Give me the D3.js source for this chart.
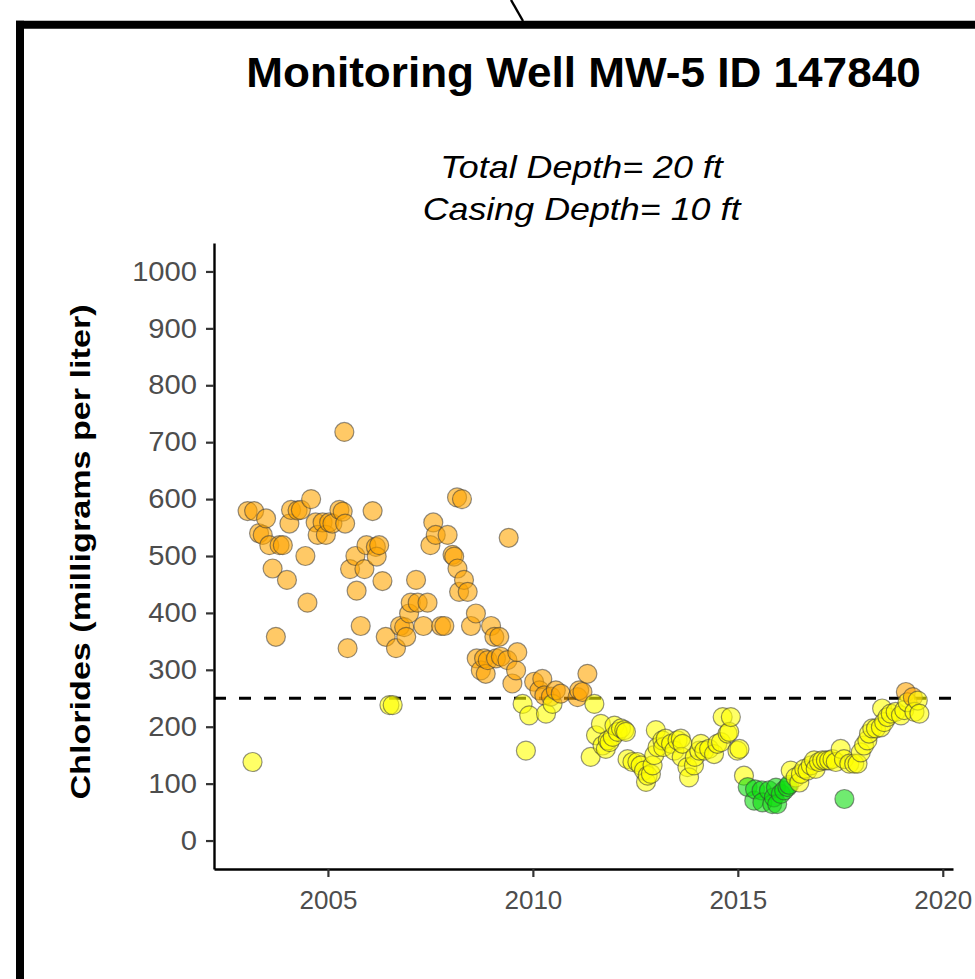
<!DOCTYPE html>
<html>
<head>
<meta charset="utf-8">
<script src="https://cdnjs.cloudflare.com/ajax/libs/d3/7.8.5/d3.min.js"></script>
<style>
body { margin: 0; background: #fff; }
text { font-family: "Liberation Sans", Arial, sans-serif; }
</style>
</head>
<body>
<div id="graph1"></div>
<script>
// sample dates (decimal years) and chloride results, mg/L
var sampleYears = [
    2003.04, 2003.16, 2003.20, 2003.32, 2003.41, 2003.49, 2003.57, 2003.65, 2003.73, 2003.82,
    2003.90, 2004.00, 2004.06, 2004.10, 2004.26, 2004.34, 2004.45, 2004.50, 2004.59, 2004.70,
    2004.75, 2004.87, 2004.95, 2005.03, 2005.11, 2005.28, 2005.36, 2005.40, 2005.42, 2005.48,
    2005.54, 2005.67, 2005.70, 2005.80, 2005.89, 2005.94, 2006.09, 2006.17, 2006.19, 2006.25,
    2006.33, 2006.41, 2006.50, 2006.58, 2006.66, 2006.76, 2006.86, 2006.91, 2006.98, 2007.02,
    2007.15, 2007.19, 2007.33, 2007.43, 2007.50, 2007.57, 2007.63, 2007.76, 2007.84, 2007.92,
    2008.04, 2008.08, 2008.15, 2008.16, 2008.20, 2008.27, 2008.32, 2008.41, 2008.49, 2008.61,
    2008.63, 2008.73, 2008.81, 2008.85, 2008.90, 2008.98, 2009.06, 2009.10, 2009.18, 2009.22,
    2009.38, 2009.41, 2009.50, 2009.59, 2009.62, 2009.75, 2009.83, 2009.91, 2010.03, 2010.16,
    2010.23, 2010.28, 2010.32, 2010.44, 2010.48, 2010.56, 2010.68, 2011.09, 2011.13, 2011.21,
    2011.33, 2011.41, 2011.50, 2011.54, 2011.66, 2011.70, 2011.78, 2011.83, 2011.87, 2011.95,
    2011.99, 2012.07, 2012.15, 2012.23, 2012.27, 2012.31, 2012.43, 2012.55, 2012.63, 2012.71,
    2012.76, 2012.80, 2012.88, 2012.92, 2012.96, 2013.00, 2013.04, 2013.16, 2013.18, 2013.24,
    2013.37, 2013.45, 2013.53, 2013.61, 2013.63, 2013.65, 2013.77, 2013.81, 2013.93, 2013.95,
    2014.06, 2014.10, 2014.18, 2014.30, 2014.42, 2014.50, 2014.59, 2014.63, 2014.75, 2014.79,
    2014.83, 2014.99, 2015.04, 2015.15, 2015.24, 2015.40, 2015.42, 2015.58, 2015.60, 2015.76,
    2015.84, 2015.88, 2015.93, 2015.96, 2016.05, 2016.13, 2016.21, 2016.25, 2016.29, 2016.41,
    2016.50, 2016.54, 2016.62, 2016.70, 2016.78, 2016.86, 2016.90, 2016.98, 2017.06, 2017.15,
    2017.23, 2017.31, 2017.39, 2017.51, 2017.59, 2017.60, 2017.72, 2017.84, 2017.92, 2018.00,
    2018.08, 2018.16, 2018.20, 2018.28, 2018.37, 2018.49, 2018.52, 2018.57, 2018.65, 2018.73,
    2018.85, 2018.98, 2019.06, 2019.10, 2019.14, 2019.27, 2019.31, 2019.39, 2019.43
];
var chlorides = [
    579, 138, 579, 540, 537, 566, 519, 478, 358, 519,
    519, 458, 557, 581, 580, 581, 500, 418, 600, 559,
    537, 559, 537, 559, 557, 581, 578, 718, 557, 338,
    477, 500, 439, 377, 477, 519, 579, 516, 499, 519,
    456, 358, 238, 238, 338, 377, 375, 358, 399, 418,
    458, 418, 377, 418, 519, 559, 537, 377, 377, 537,
    502, 499, 603, 478, 437, 600, 458, 437, 377, 399,
    320, 299, 320, 293, 317, 377, 358, 320, 358, 323,
    317, 532, 276, 299, 331, 240, 158, 220, 279, 264,
    284, 255, 223, 253, 240, 264, 258, 252, 264, 261,
    293, 147, 240, 185, 205, 167, 161, 176, 173, 182,
    202, 191, 197, 194, 191, 143, 138, 138, 132, 123,
    103, 114, 117, 132, 150, 194, 164, 176, 164, 179,
    170, 158, 176, 179, 147, 170, 129, 111, 132, 147,
    158, 170, 158, 161, 152, 170, 173, 217, 188, 191,
    217, 158, 161, 114, 94, 70, 90, 88, 67, 88,
    64, 76, 93, 64, 82, 88, 94, 98, 123, 111,
    102, 117, 126, 123, 132, 141, 126, 138, 141, 141,
    141, 143, 138, 161, 143, 73, 135, 135, 135, 155,
    167, 176, 188, 197, 197, 199, 232, 208, 217, 223,
    226, 220, 229, 261, 243, 252, 226, 246, 223
];
var yTicks = [0, 100, 200, 300, 400, 500, 600, 700, 800, 900, 1000];
var xTicks = [2005, 2010, 2015, 2020];
var standard = 250;
var titleText = "Monitoring Well MW-5 ID 147840";
var subtitleLines = ["Total Depth= 20 ft", "Casing Depth= 10 ft"];
var yLabel = "Chlorides (milligrams per liter)";

var w = 975;
var h = 979;
var margin = {top: 243, bottom: 110, left: 214, right: 22};

var svg = d3.select("#graph1").append("svg")
    .attr("width", w)
    .attr("height", h)
    .style("display", "block");

svg.append("rect")
    .attr("width", w)
    .attr("height", h)
    .attr("fill", "#fff");

// frame edges and the stray line above it
svg.append("line")
    .attr("x1", 16).attr("x2", w)
    .attr("y1", 24.7).attr("y2", 24.7)
    .attr("stroke", "#000").attr("stroke-width", 8);
svg.append("line")
    .attr("x1", 20).attr("x2", 20)
    .attr("y1", 20.7).attr("y2", h)
    .attr("stroke", "#000").attr("stroke-width", 8);
svg.append("line")
    .attr("x1", 511).attr("y1", 0)
    .attr("x2", 523).attr("y2", 21)
    .attr("stroke", "#000").attr("stroke-width", 2.4);

var data = sampleYears.map(function(d, i){
    return {year: d, value: chlorides[i]};
});

var ext = d3.extent(sampleYears);
var pad = (ext[1] - ext[0]) * 0.05;
var x = d3.scaleLinear()
    .domain([ext[0] - pad, ext[1] + pad])
    .range([margin.left, w - margin.right]);
var y = d3.scaleLinear()
    .domain([-50, 1050])
    .range([h - margin.bottom, margin.top]);

var color = function(v){
    if (v > standard) return "#FFA500";
    if (v > 100) return "#FFFF00";
    return "#11DD11";
};

var xAxis = d3.axisBottom(x)
    .tickValues(xTicks)
    .tickFormat(d3.format("d"))
    .tickSizeInner(8)
    .tickSizeOuter(0)
    .tickPadding(14);
var yAxis = d3.axisLeft(y)
    .tickValues(yTicks)
    .tickFormat(d3.format("d"))
    .tickSizeInner(8)
    .tickSizeOuter(0)
    .tickPadding(9);

var gx = svg.append("g")
    .attr("transform", "translate(0," + (h - margin.bottom) + ")")
    .call(xAxis);
var gy = svg.append("g")
    .attr("transform", "translate(" + margin.left + ",0)")
    .call(yAxis);

[gx, gy].forEach(function(g){
    g.select(".domain").attr("stroke", "#000").attr("stroke-width", 2.4);
    g.selectAll(".tick line").attr("stroke", "#333").attr("stroke-width", 2.2);
    g.selectAll(".tick text")
        .attr("fill", "#4D4D4D")
        .style("font-family", "'Liberation Sans', Arial, sans-serif");
});
gx.selectAll(".tick text").style("font-size", "26px");
// the source font runs a little wide, so stretch the labels sideways
gy.selectAll(".tick text")
    .style("font-size", "27px")
    .attr("x", null)
    .attr("transform", "translate(-17,0) scale(1.08,1)");

// threshold line
svg.append("line")
    .attr("x1", x.range()[0]).attr("x2", x.range()[1])
    .attr("y1", y(standard)).attr("y2", y(standard))
    .attr("stroke", "#000")
    .attr("stroke-width", 3)
    .attr("stroke-dasharray", "12,13");

svg.append("g")
    .selectAll(".point")
    .data(data)
    .enter()
    .append("circle")
    .classed("point", true)
    .attr("cx", function(d){ return x(d.year); })
    .attr("cy", function(d){ return y(d.value); })
    .attr("r", 9.5)
    .attr("fill", function(d){ return color(d.value); })
    .attr("fill-opacity", 0.6)
    .attr("stroke", "#3a3a3a")
    .attr("stroke-opacity", 0.55)
    .attr("stroke-width", 1.2);

var cx = (x.range()[0] + x.range()[1]) / 2;

svg.append("text")
    .attr("transform", "translate(" + cx + ",87) scale(1.05,1)")
    .style("text-anchor", "middle")
    .style("font-weight", "bold")
    .style("font-size", "42px")
    .attr("fill", "#000")
    .text(titleText);

svg.selectAll(".subtitle")
    .data(subtitleLines)
    .enter()
    .append("text")
    .classed("subtitle", true)
    .attr("transform", function(d, i){
        return "translate(" + (cx - 2) + "," + (178 + i * 42) + ") scale(1.12,1)";
    })
    .style("text-anchor", "middle")
    .style("font-style", "italic")
    .style("font-size", "32px")
    .attr("fill", "#000")
    .text(function(d){ return d; });

svg.append("text")
    .attr("transform", "translate(90," + ((y(0) + y(1000)) / 2 - 4) + ") rotate(-90) scale(1.22,1)")
    .style("text-anchor", "middle")
    .style("font-weight", "bold")
    .style("font-size", "28px")
    .attr("fill", "#000")
    .text(yLabel);
</script>
</body>
</html>
